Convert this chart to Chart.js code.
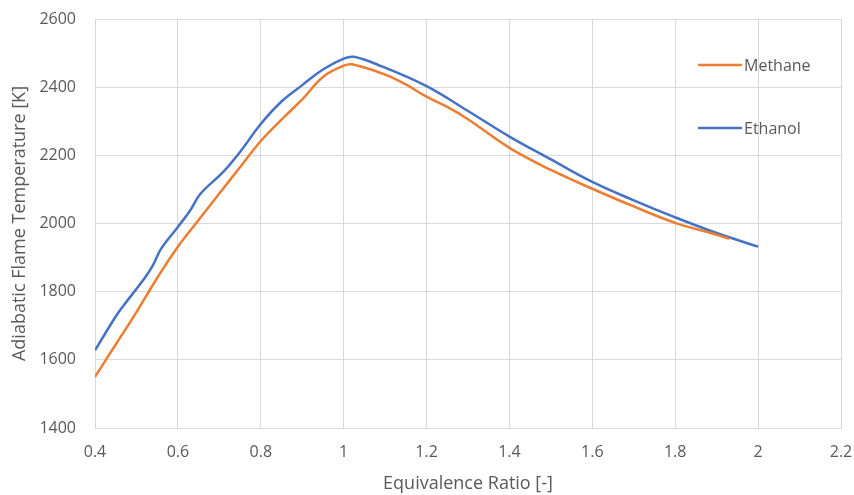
<!DOCTYPE html>
<html>
<head>
<meta charset="utf-8">
<script src="https://cdn.jsdelivr.net/npm/chart.js@4.4.1/dist/chart.umd.min.js"></script>
<style>
  html, body { margin: 0; padding: 0; background: #fff; }
  #wrap { width: 854px; height: 495px; }
</style>
</head>
<body>
<div id="wrap"><canvas id="flame"></canvas></div>
<script>
const seriesNames = ["Methane", "Ethanol"];
const seriesColors = ["#ED7D31", "#4472C4"];

const methanePhi = [0.4, 0.45, 0.5, 0.55, 0.6, 0.65, 0.7, 0.75, 0.8, 0.85, 0.9, 0.95, 1.0, 1.02, 1.1, 1.15, 1.2, 1.25, 1.3, 1.4, 1.5, 1.6, 1.7, 1.8, 1.9, 1.93];
const methaneT = [1550, 1645, 1740, 1840, 1932, 2010, 2088, 2165, 2242, 2305, 2364, 2430, 2463, 2467, 2437, 2408, 2372, 2342, 2306, 2222, 2157, 2102, 2050, 2002, 1967, 1955];

const ethanolPhi = [0.4, 0.45, 0.47, 0.52, 0.54, 0.56, 0.6, 0.63, 0.655, 0.71, 0.75, 0.8, 0.85, 0.9, 0.95, 1.0, 1.025, 1.09, 1.2, 1.3, 1.4, 1.5, 1.6, 1.7, 1.8, 1.9, 2.0];
const ethanolT = [1628, 1727, 1761, 1840, 1878, 1927, 1990, 2039, 2088, 2152, 2210, 2292, 2358, 2406, 2452, 2484, 2489, 2462, 2403, 2330, 2255, 2188, 2122, 2068, 2018, 1972, 1932];

const xTicks = [0.4, 0.6, 0.8, 1, 1.2, 1.4, 1.6, 1.8, 2, 2.2];
const yTicks = [1400, 1600, 1800, 2000, 2200, 2400, 2600];

const toPoints = (xs, ys) => xs.map((x, i) => ({ x, y: ys[i] }));

const textColor = "#595959";
const gridColor = "#d9d9d9";
const fontFamily = "'Open Sans', 'Liberation Sans', sans-serif";

// legend sits over the plot area, like the Excel original
const overlayLegend = {
  id: "overlayLegend",
  afterDraw(chart) {
    const ctx = chart.ctx;
    const rows = [65, 128];
    ctx.save();
    ctx.font = "16px " + fontFamily;
    ctx.textBaseline = "middle";
    ctx.fillStyle = textColor;
    seriesNames.forEach((name, i) => {
      ctx.strokeStyle = seriesColors[i];
      ctx.lineWidth = 2.5;
      ctx.beginPath();
      ctx.moveTo(698, rows[i]);
      ctx.lineTo(742, rows[i]);
      ctx.stroke();
      ctx.fillText(name, 744, rows[i] + 1);
    });
    ctx.restore();
  },
};

const chart = new Chart(document.getElementById("flame"), {
  type: "scatter",
  data: {
    datasets: [
      {
        label: seriesNames[0],
        data: toPoints(methanePhi, methaneT),
        borderColor: seriesColors[0],
        backgroundColor: seriesColors[0],
      },
      {
        label: seriesNames[1],
        data: toPoints(ethanolPhi, ethanolT),
        borderColor: seriesColors[1],
        backgroundColor: seriesColors[1],
      },
    ].map((d) => ({ ...d, showLine: true, pointRadius: 0, borderWidth: 2.5, tension: 0.4 })),
  },
  options: {
    responsive: true,
    maintainAspectRatio: false,
    animation: false,
    layout: { padding: { top: 19, right: 13, left: 0, bottom: 0 } },
    plugins: {
      legend: { display: false },
      tooltip: { enabled: false },
    },
    scales: {
      x: {
        type: "linear",
        min: 0.4,
        max: 2.2,
        afterBuildTicks: (axis) => { axis.ticks = xTicks.map((v) => ({ value: v })); },
        afterFit: (axis) => { axis.height = 67; axis.paddingLeft = 0; axis.paddingRight = 0; },
        grid: { color: gridColor, drawTicks: false },
        border: { color: gridColor },
        ticks: {
          color: textColor,
          font: { family: fontFamily, size: 16 },
          padding: 15,
          callback: (v) => String(Math.round(v * 10) / 10),
        },
        title: {
          display: true,
          text: "Equivalence Ratio [-]",
          color: textColor,
          font: { family: fontFamily, size: 18 },
          padding: { top: 0, bottom: 0 },
        },
      },
      y: {
        min: 1400,
        max: 2600,
        afterBuildTicks: (axis) => { axis.ticks = yTicks.map((v) => ({ value: v })); },
        afterFit: (axis) => { axis.width = 95; axis.paddingTop = 0; axis.paddingBottom = 0; },
        grid: { color: gridColor, drawTicks: false },
        border: { color: gridColor },
        ticks: {
          color: textColor,
          font: { family: fontFamily, size: 16 },
          padding: 19,
          callback: (v) => String(v),
        },
        title: {
          display: true,
          text: "Adiabatic Flame Temperature [K]",
          color: textColor,
          font: { family: fontFamily, size: 18 },
          padding: { top: 9, bottom: 0 },
        },
      },
    },
  },
  plugins: [overlayLegend],
});
</script>
</body>
</html>
